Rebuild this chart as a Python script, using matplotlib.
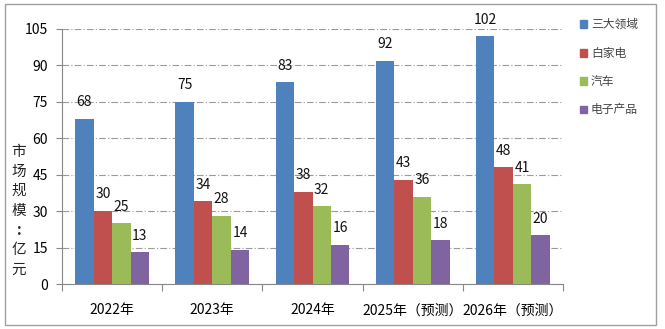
import matplotlib.pyplot as plt
import matplotlib.patches as mpatches
import numpy as np

plt.rcParams['font.family'] = ['Noto Sans CJK SC', 'DejaVu Sans']

years = ['2022年', '2023年', '2024年', '2025年（预测）', '2026年（预测）']
series_names = ['三大领域', '白家电', '汽车', '电子产品']
three_fields = [68, 75, 83, 92, 102]
appliances = [30, 34, 38, 43, 48]
cars = [25, 28, 32, 36, 41]
electronics = [13, 14, 16, 18, 20]
y_ticks = [0, 15, 30, 45, 60, 75, 90, 105]
y_label = '市场规模：亿元'

colors = ['#4F81BD', '#C0504D', '#9BBB59', '#8064A2']

fig = plt.figure(figsize=(6.65, 3.29), dpi=100)
# outer frame
fig.patches.append(mpatches.Rectangle((5 / 665, 4 / 329), 651 / 665, 321 / 329,
                                      transform=fig.transFigure, fill=False,
                                      edgecolor='#a0a0a0', linewidth=1))

ax = fig.add_axes([62 / 665, 45 / 329, 501 / 665, 255 / 329])

x = np.arange(len(years))
w = 0.184
all_series = [three_fields, appliances, cars, electronics]
for i, vals in enumerate(all_series):
    pos = x + (i - 1.5) * w
    ax.bar(pos, vals, width=w, color=colors[i], zorder=3, label=series_names[i])
    for p, v in zip(pos, vals):
        ax.annotate(str(v), (p, v), xytext=(0, 7), textcoords='offset points',
                    ha='center', va='bottom', fontsize=10, color='#111111')

ax.set_xlim(-0.5, len(years) - 0.5)
ax.set_ylim(0, 105)
ax.set_yticks(y_ticks)
ax.tick_params(axis='y', labelsize=10, length=4, color='#888888', pad=6)
ax.yaxis.grid(True, linestyle=(0, (6, 2, 1, 2)), color='#9a9a9a', linewidth=0.8)

# category boundaries as major ticks, labels at centres
ax.set_xticks(np.arange(-0.5, len(years), 1))
ax.set_xticklabels([])
ax.set_xticks(x, minor=True)
ax.set_xticklabels(years, minor=True)
ax.tick_params(axis='x', which='major', length=5, color='#888888')
ax.tick_params(axis='x', which='minor', length=0, labelsize=10, pad=14)

for s in ['top', 'right']:
    ax.spines[s].set_visible(False)
for s in ['left', 'bottom']:
    ax.spines[s].set_color('#888888')

# vertical y label, one character per line
for k, ch in enumerate(y_label):
    if ch == '：':
        ch = ':'
    fig.text(19 / 665, (329 - 152 - k * 19.6) / 329, ch, ha='center', va='center',
             fontsize=10.5, color='#222222', fontweight='bold' if ch == ':' else 'normal')

# legend
ly = [24, 53, 81, 110]
for i, name in enumerate(series_names):
    fig.patches.append(mpatches.Rectangle((580 / 665, (329 - ly[i] - 3.5) / 329), 7 / 665, 7 / 329,
                                          transform=fig.transFigure, color=colors[i]))
    fig.text(591 / 665, (329 - ly[i]) / 329, name, ha='left', va='center',
             fontsize=8.5, color='#444444')

fig.savefig('out.png', dpi=100)
